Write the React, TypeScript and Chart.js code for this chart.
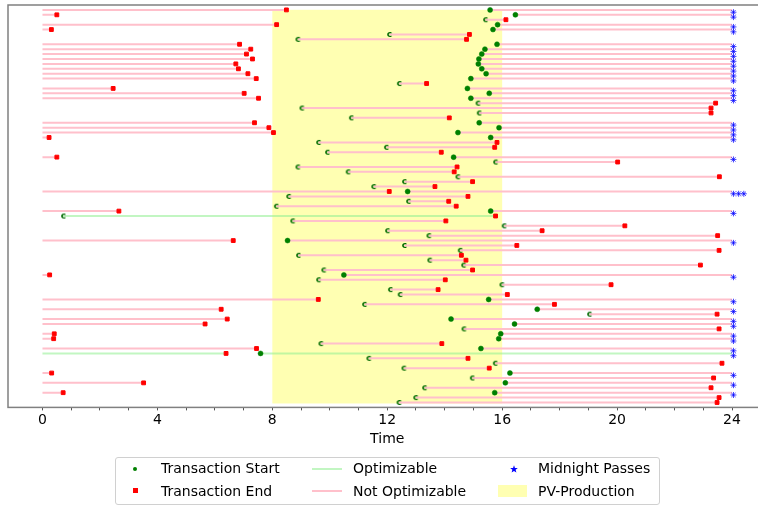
import React, { useEffect, useRef } from "react";
import { Chart, registerables } from "chart.js";

Chart.register(...registerables);

const FONT = "'DejaVu Sans', 'Liberation Sans', sans-serif";

// ---------- data (hours of the day, one row per vehicle / charge point) ----------
const hourTicks = [0, 4, 8, 12, 16, 20, 24];
const pvWindow = [8, 16];
const rowCount = 81;

// Sessions continuing from the previous night: [row, end hour, optimizable(1/0)]
const carriedOver: number[][] = [
  [0, 8.49, 0], [1, 0.5, 0], [3, 8.15, 0], [4, 0.31, 0], [7, 6.86, 0],
  [8, 7.25, 0], [9, 7.1, 0], [10, 7.31, 0], [11, 6.73, 0], [12, 6.82, 0],
  [13, 7.15, 0], [14, 7.44, 0], [16, 2.46, 0], [17, 7.02, 0], [18, 7.52, 0],
  [23, 7.38, 0], [24, 7.88, 0], [25, 8.04, 0], [26, 0.23, 0], [30, 0.5, 0],
  [37, 12.07, 0], [41, 2.66, 0], [47, 6.64, 0], [54, 0.25, 0], [59, 9.6, 0],
  [61, 6.22, 0], [63, 6.43, 0], [64, 5.66, 0], [66, 0.41, 0], [67, 0.39, 0],
  [69, 7.45, 0], [70, 6.39, 1], [74, 0.32, 0], [76, 3.52, 0], [78, 0.72, 0],
];

// Sessions running past midnight: [row, start hour, midnight passes, optimizable(1/0)]
const overnight: number[][] = [
  [0, 15.58, 1, 0], [1, 16.46, 1, 0], [3, 15.84, 1, 0], [4, 15.68, 1, 0],
  [7, 15.82, 1, 0], [8, 15.4, 1, 0], [9, 15.29, 1, 0], [10, 15.19, 1, 0],
  [11, 15.17, 1, 0], [12, 15.29, 1, 0], [13, 15.44, 1, 0], [14, 14.91, 1, 0],
  [16, 14.79, 1, 0], [17, 15.55, 1, 0], [18, 14.91, 1, 0], [23, 15.2, 1, 0],
  [24, 15.89, 1, 0], [25, 14.46, 1, 0], [26, 15.6, 1, 0], [30, 14.31, 1, 0],
  [37, 12.71, 3, 0], [41, 15.6, 1, 0], [47, 8.53, 1, 0], [54, 10.49, 1, 0],
  [59, 15.53, 1, 0], [61, 17.22, 1, 0], [63, 14.22, 1, 0], [64, 16.43, 1, 0],
  [66, 15.95, 1, 0], [67, 15.88, 1, 0], [69, 15.26, 1, 0], [70, 7.59, 1, 1],
  [74, 16.27, 1, 0], [76, 16.11, 1, 0], [78, 15.74, 1, 0],
];

// Sessions within the day: [row, start hour, end hour, optimizable(1/0)]
const daySessions: number[][] = [
  [2, 15.42, 16.13, 0], [5, 12.08, 14.86, 0], [6, 8.89, 14.76, 0],
  [15, 12.42, 13.37, 0], [19, 15.16, 23.43, 0], [20, 9.03, 23.27, 0],
  [21, 15.2, 23.27, 0], [22, 10.75, 14.16, 0], [27, 9.61, 15.82, 0],
  [28, 11.97, 15.74, 0], [29, 9.92, 13.88, 0], [31, 15.77, 20.02, 0],
  [32, 8.89, 14.43, 0], [33, 10.64, 14.33, 0], [34, 14.46, 23.56, 0],
  [35, 12.6, 14.97, 0], [36, 11.53, 13.66, 0], [38, 8.57, 14.81, 0],
  [39, 12.74, 14.14, 0], [40, 8.14, 14.4, 0], [42, 0.73, 15.77, 1],
  [43, 8.71, 14.04, 0], [44, 16.07, 20.27, 0], [45, 12.01, 17.39, 0],
  [46, 13.45, 23.5, 0], [48, 12.6, 16.51, 0], [49, 14.54, 23.55, 0],
  [50, 8.91, 14.58, 0], [51, 13.48, 14.74, 0], [52, 14.66, 22.9, 0],
  [53, 9.79, 14.97, 0], [55, 9.61, 14.02, 0], [56, 15.99, 19.79, 0],
  [57, 12.11, 13.77, 0], [58, 12.45, 16.18, 0], [60, 11.21, 17.82, 0],
  [62, 19.04, 23.48, 0], [65, 14.67, 23.55, 0], [68, 9.69, 13.9, 0],
  [71, 11.36, 14.81, 0], [72, 15.76, 23.65, 0], [73, 12.58, 15.55, 0],
  [75, 14.96, 23.36, 0], [77, 13.3, 23.27, 0], [79, 12.99, 23.55, 0],
  [80, 12.41, 23.48, 0],
];

const legendLabels = [
  "Transaction Start",
  "Transaction End",
  "Optimizable",
  "Not Optimizable",
  "Midnight Passes",
  "PV-Production",
];

// ---------- colours ----------
const START_GREEN = "#008000";
const END_RED = "#ff0000";
const PINK = "#ffc0cb";
const LIGHT_GREEN = "rgba(144,238,144,0.55)";
const STAR_BLUE = "rgba(0,0,255,0.75)";
const PV_YELLOW = "rgba(255,255,0,0.3)";

const midnight = hourTicks[hourTicks.length - 1];

type P = { x: number; y: number | null };

function segmentPoints(opt: number): P[] {
  const pts: P[] = [];
  carriedOver
    .filter((r) => r[2] === opt)
    .forEach(([row, end]) => pts.push({ x: 0, y: row }, { x: end, y: row }, { x: end, y: null }));
  overnight
    .filter((r) => r[3] === opt)
    .forEach(([row, start]) => pts.push({ x: start, y: row }, { x: midnight, y: row }, { x: midnight, y: null }));
  daySessions
    .filter((r) => r[3] === opt)
    .forEach(([row, s, e]) => pts.push({ x: s, y: row }, { x: e, y: row }, { x: e, y: null }));
  return pts;
}

function makeCMarker(): HTMLCanvasElement {
  const c = document.createElement("canvas");
  c.width = 9;
  c.height = 9;
  const ctx = c.getContext("2d")!;
  ctx.fillStyle = "#006a00";
  ctx.font = `bold 9px ${FONT}`;
  ctx.textAlign = "center";
  ctx.textBaseline = "alphabetic";
  ctx.fillText("c", 4.5, 7);
  return c;
}

const pvPlugin = {
  id: "pvBand",
  beforeDatasetsDraw(chart: any) {
    const { ctx, scales } = chart;
    const x1 = scales.x.getPixelForValue(pvWindow[0]);
    const x2 = scales.x.getPixelForValue(pvWindow[1]);
    const y1 = scales.y.getPixelForValue(-0.02);
    const y2 = scales.y.getPixelForValue(rowCount - 0.8);
    ctx.save();
    ctx.fillStyle = PV_YELLOW;
    ctx.fillRect(x1, y1, x2 - x1, y2 - y1);
    ctx.restore();
  },
};

const framePlugin = {
  id: "frame",
  afterDatasetsDraw(chart: any) {
    const { ctx, chartArea } = chart;
    ctx.save();
    ctx.strokeStyle = "#808080";
    ctx.lineWidth = 1.5;
    ctx.strokeRect(chartArea.left, chartArea.top, chartArea.right - chartArea.left, chartArea.bottom - chartArea.top);
    ctx.restore();
  },
};

const CANVAS_W = 800;
const CANVAS_H = 506;

export default function App() {
  const ref = useRef<HTMLCanvasElement | null>(null);

  useEffect(() => {
    if (!ref.current) return;
    const cMarker = makeCMarker();

    const startDots = overnight.map(([row, start]) => ({ x: start, y: row }));
    const cStarts = daySessions.map(([row, s]) => ({ x: s, y: row }));
    const ends = [
      ...carriedOver.map(([row, end]) => ({ x: end, y: row })),
      ...daySessions.map(([row, , e]) => ({ x: e, y: row })),
    ];
    const stars = overnight.flatMap(([row, , passes]) =>
      Array.from({ length: passes }, (_, i) => ({ x: midnight + 0.05 + i * 0.18, y: row + 0.47 }))
    );

    const chart = new Chart(ref.current, {
      type: "scatter",
      data: {
        datasets: [
          {
            type: "scatter",
            label: "Midnight Passes",
            data: stars,
            pointStyle: "star",
            pointRadius: 3,
            borderColor: STAR_BLUE,
            backgroundColor: STAR_BLUE,
            borderWidth: 1,
            order: 1,
          } as any,
          {
            type: "scatter",
            label: "Transaction End",
            data: ends,
            pointStyle: "rect",
            pointRadius: 2.7,
            borderColor: END_RED,
            backgroundColor: END_RED,
            borderWidth: 1,
            order: 2,
          } as any,
          {
            type: "scatter",
            label: "Transaction Start",
            data: startDots,
            pointStyle: "circle",
            pointRadius: 2.5,
            borderColor: START_GREEN,
            backgroundColor: START_GREEN,
            borderWidth: 0.5,
            order: 3,
          } as any,
          {
            type: "scatter",
            label: "Transaction Start (c)",
            data: cStarts,
            pointStyle: cMarker,
            pointRadius: 4,
            order: 4,
          } as any,
          {
            type: "line",
            label: "Optimizable",
            data: segmentPoints(1),
            borderColor: LIGHT_GREEN,
            borderWidth: 2,
            pointRadius: 0,
            spanGaps: false,
            order: 10,
          } as any,
          {
            type: "line",
            label: "Not Optimizable",
            data: segmentPoints(0),
            borderColor: PINK,
            borderWidth: 2,
            pointRadius: 0,
            spanGaps: false,
            order: 11,
          } as any,
        ],
      },
      options: {
        animation: false,
        responsive: false,
        maintainAspectRatio: false,
        events: [],
        layout: { padding: { left: 8, right: CANVAS_W - 766.5, top: 5, bottom: 58 } },
        plugins: { legend: { display: false }, tooltip: { enabled: false } },
        scales: {
          x: {
            type: "linear",
            min: -1.2,
            max: 25.2,
            afterBuildTicks: (scale: any) => {
              scale.ticks = scale.ticks.filter((t: any) => t.value >= 0 && t.value <= midnight);
            },
            ticks: {
              stepSize: 1,
              autoSkip: false,
              maxRotation: 0,
              includeBounds: false,
              padding: 2,
              color: "#000",
              font: { family: FONT, size: 14 },
              callback: (v: any) => (hourTicks.includes(Number(v)) ? String(v) : ""),
            },
            grid: { drawOnChartArea: false, drawTicks: true, tickLength: 3, color: "#555", lineWidth: 1 },
            border: { display: false },
            title: {
              display: true,
              text: "Time",
              color: "#000",
              font: { family: FONT, size: 14 },
              padding: { top: 0, bottom: 0 },
            },
          },
          y: { type: "linear", min: -1, max: rowCount, reverse: true, display: false },
        },
      },
      plugins: [pvPlugin, framePlugin],
    });
    return () => chart.destroy();
  }, []);

  const textStyle = (left: number, top: number): React.CSSProperties => ({
    position: "absolute",
    left,
    top,
    fontFamily: FONT,
    fontSize: 14,
    lineHeight: "14px",
    color: "#000",
    whiteSpace: "nowrap",
  });

  return (
    <div
      style={{
        position: "fixed",
        left: 0,
        top: 0,
        width: 758,
        height: 506,
        overflow: "hidden",
        background: "#fff",
      }}
    >
      <canvas
        ref={ref}
        width={CANVAS_W}
        height={CANVAS_H}
        style={{ position: "absolute", left: 0, top: 0, width: CANVAS_W, height: CANVAS_H }}
      />
      {/* legend */}
      <div
        style={{
          position: "absolute",
          left: 115,
          top: 456.5,
          width: 545,
          height: 48.5,
          border: "1px solid #d0d0d0",
          borderRadius: 3,
          boxSizing: "border-box",
          background: "rgba(255,255,255,0.85)",
        }}
      />
      <div style={{ position: "absolute", left: 133, top: 466.5, width: 4, height: 4, borderRadius: "50%", background: START_GREEN }} />
      <div style={{ position: "absolute", left: 132.5, top: 487.5, width: 5, height: 5, background: END_RED }} />
      <div style={{ position: "absolute", left: 312, top: 467.5, width: 30, height: 2, background: LIGHT_GREEN }} />
      <div style={{ position: "absolute", left: 312, top: 489.5, width: 30, height: 2, background: PINK }} />
      <svg style={{ position: "absolute", left: 509.5, top: 465, width: 8, height: 8 }} viewBox="0 0 10 10">
        <polygon
          points="5,0.3 6.2,3.6 9.8,3.7 7,5.9 8,9.5 5,7.4 2,9.5 3,5.9 0.2,3.7 3.8,3.6"
          fill="#0000ff"
        />
      </svg>
      <div style={{ position: "absolute", left: 498, top: 485, width: 29, height: 11.5, background: PV_YELLOW }} />
      <span style={textStyle(161, 461)}>{legendLabels[0]}</span>
      <span style={textStyle(161, 483.5)}>{legendLabels[1]}</span>
      <span style={textStyle(353, 461)}>{legendLabels[2]}</span>
      <span style={textStyle(353, 483.5)}>{legendLabels[3]}</span>
      <span style={textStyle(538, 461)}>{legendLabels[4]}</span>
      <span style={textStyle(538, 483.5)}>{legendLabels[5]}</span>
    </div>
  );
}
